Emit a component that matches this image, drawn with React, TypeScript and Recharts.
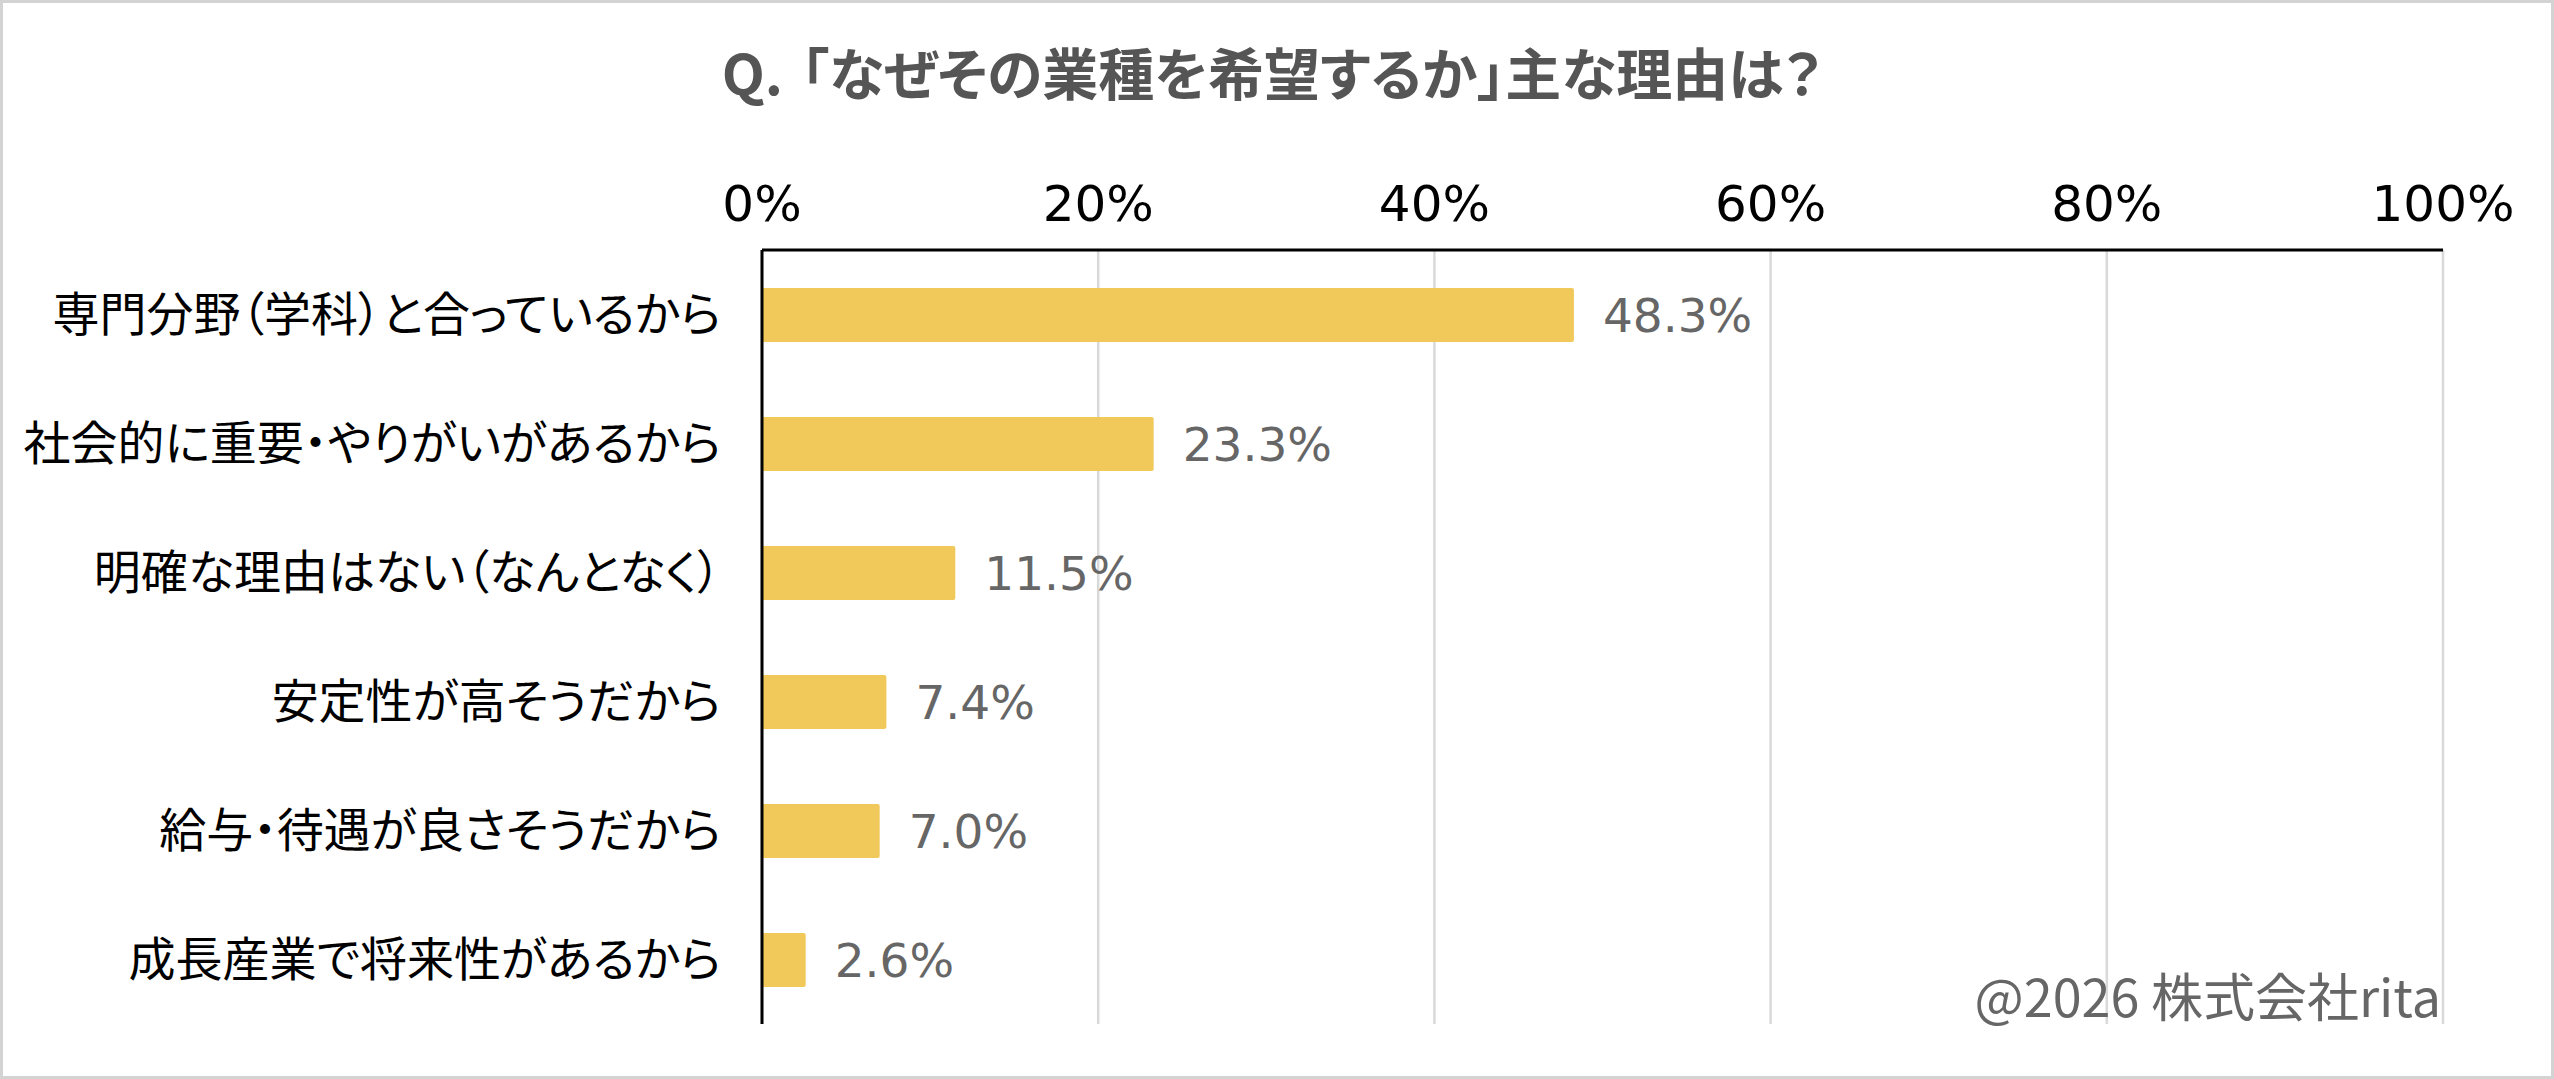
import React from 'react';
import { BarChart, Bar, XAxis, YAxis, CartesianGrid, LabelList } from 'recharts';

const categories = [
  '専門分野（学科）と合っているから',
  '社会的に重要・やりがいがあるから',
  '明確な理由はない（なんとなく）',
  '安定性が高そうだから',
  '給与・待遇が良さそうだから',
  '成長産業で将来性があるから',
];
const values = [48.3, 23.3, 11.5, 7.4, 7.0, 2.6];
const xTicks = [0, 20, 40, 60, 80, 100];
const titlePrefix = 'Q.';
const titleBody = '「なぜその業種を希望するか」主な理由は？';
const creditText = '@2026 株式会社rita';

const data = categories.map((name, i) => ({ name, value: values[i] }));

const W = 2554;
const H = 1079;
const JP = "'Noto Sans CJK JP', 'Noto Sans', sans-serif";
const LATIN = "'DejaVu Sans', 'Noto Sans CJK JP', sans-serif";

export default function App() {
  return (
    <div style={{ position: 'absolute', left: 0, top: 0, width: W, height: H, background: '#fff', overflow: 'hidden' }}>
      <BarChart
        width={W}
        height={H}
        data={data}
        layout="vertical"
        margin={{ top: 0, right: W - 2443, bottom: H - 1024, left: 0 }}
        barSize={54}
      >
        <CartesianGrid horizontal={false} vertical={true} stroke="#d9d9d9" strokeWidth={2.5} />
        <XAxis
          type="number"
          orientation="top"
          domain={[0, 100]}
          ticks={xTicks}
          height={250}
          axisLine={{ stroke: '#000', strokeWidth: 3 }}
          tickLine={false}
          tickSize={0}
          tickMargin={29}
          tickFormatter={(v: number) => `${v}%`}
          tick={{ fill: '#000', fontSize: 50, fontFamily: LATIN }}
          interval={0}
        />
        <YAxis
          type="category"
          dataKey="name"
          width={762}
          axisLine={{ stroke: '#000', strokeWidth: 3 }}
          tickLine={false}
          tickSize={0}
          tickMargin={41}
          interval={0}
          tick={{ fill: '#000', fontSize: 47, fontFamily: JP, style: { fontFeatureSettings: '"palt"' } } as any}
        />
        <Bar dataKey="value" fill="#F1C95B" radius={[0, 2, 2, 0]} isAnimationActive={false}>
          <LabelList
            dataKey="value"
            position="right"
            offset={29}
            formatter={(v: any) => `${Number(v).toFixed(1)}%`}
            style={{ fill: '#666666', fontSize: 47, fontFamily: LATIN }}
          />
        </Bar>
      </BarChart>
      <div
        style={{
          position: 'absolute',
          left: 0,
          width: 2544,
          top: 42,
          textAlign: 'center',
          fontFamily: JP,
          fontWeight: 700,
          fontSize: 56,
          lineHeight: '58px',
          color: '#555555',
          whiteSpace: 'nowrap',
          fontFeatureSettings: '"palt"',
        }}
      >
        <span style={{ marginRight: 18 }}>{titlePrefix}</span>
        <span>{titleBody}</span>
      </div>
      <div
        style={{
          position: 'absolute',
          right: W - 2441,
          top: 966,
          fontFamily: JP,
          fontSize: 52,
          lineHeight: '58px',
          color: '#666666',
          whiteSpace: 'nowrap',
        }}
      >
        {creditText}
      </div>
      <div
        style={{
          position: 'absolute',
          left: 0,
          top: 0,
          width: W,
          height: H,
          boxSizing: 'border-box',
          border: '3px solid #d3d3d3',
          pointerEvents: 'none',
        }}
      />
    </div>
  );
}
